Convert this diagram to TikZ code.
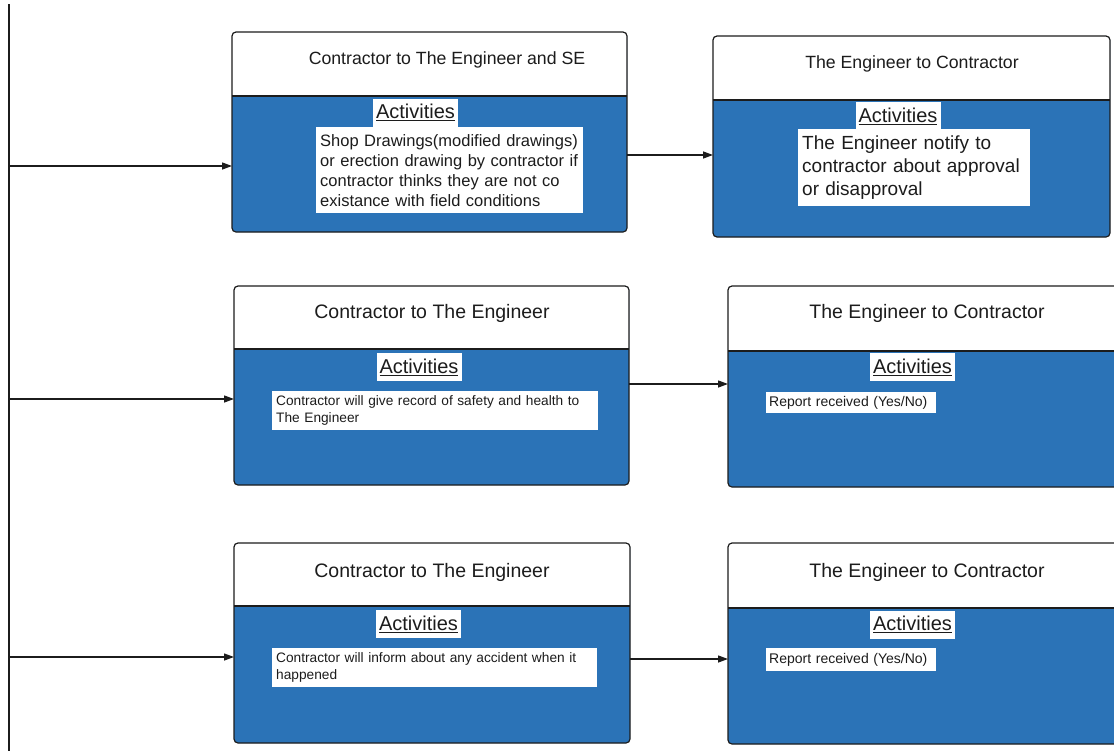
\documentclass[tikz,border=0pt]{standalone}
\usepackage{fontspec}
\setmainfont{Liberation Sans}
\usetikzlibrary{arrows.meta}
\definecolor{cardblue}{RGB}{43,115,183}
\definecolor{ink}{RGB}{28,28,28}

% card: white title strip over a blue body, with a rounded dark border
% #1 name, #2 left, #3 top, #4 right, #5 bottom, #6 y of the divider
\newcommand\cardbox[6]{%
  \node[cardbody, minimum width={#4-#2}, minimum height={#5-#3}] (#1) at (#2,#3) {};
  \begin{scope}
    \clip[rounded corners=4pt] (#1.north west) rectangle (#1.south east);
    \fill[white] (#1.north west) rectangle (#1.east |- 0,#6);
  \end{scope}
  \draw[edge] (#1.west |- 0,#6) -- (#1.east |- 0,#6);
  \draw[edge, rounded corners=4pt] (#1.north west) rectangle (#1.south east);
}

\begin{document}
\begin{tikzpicture}[x=1pt, y=-1pt,
  cardbody/.style={fill=cardblue, rounded corners=4pt, inner sep=0pt, outer sep=0pt, anchor=north west},
  edge/.style={draw=ink, line width=1.2pt},
  wire/.style={draw=ink, line width=1.3pt},
  arr/.style={wire, -{Triangle[length=10pt, width=7pt]}},
  headsmall/.style={text=ink, inner sep=0pt, font=\fontsize{17.7}{21}\selectfont},
  headbig/.style={text=ink, inner sep=0pt, font=\fontsize{19.5}{23}\selectfont},
  acts/.style={fill=white, text=ink, inner sep=0pt, minimum width=85, minimum height=28,
    font=\fontsize{20}{24}\selectfont},
  body/.style={fill=white, text=ink, anchor=north west, inner xsep=4pt, inner ysep=0pt, align=left},
]
\useasboundingbox (0,0) rectangle (1114,750);
\fill[white] (0,0) rectangle (1114,750);
\clip (0,0) rectangle (1114,750);

% cards
\cardbox{c1}{232}{32}{627}{232}{96}
\cardbox{c2}{713}{36}{1110}{237}{100}
\cardbox{c3}{234}{286}{629}{485}{349}
\cardbox{c4}{728}{286}{1125}{487}{351}
\cardbox{c5}{234}{543}{630}{743}{606}
\cardbox{c6}{728}{543}{1125}{744}{608}

% titles
\node[headsmall] (h1) at (447,60) {Contractor to The Engineer and SE};
\node[headsmall] (h2) at (912,64) {The Engineer to Contractor};
\node[headbig] (h3) at (432,313) {Contractor to The Engineer};
\node[headbig] (h4) at (927,313) {The Engineer to Contractor};
\node[headbig] (h5) at (432,572) {Contractor to The Engineer};
\node[headbig] (h6) at (927,572) {The Engineer to Contractor};

% "Activities" labels
\node[acts] (a1) at (415.5,112.5) {\underline{Activities}};
\node[acts] (a2) at (898,116) {\underline{Activities}};
\node[acts] (a3) at (419,367) {\underline{Activities}};
\node[acts] (a4) at (912.5,367) {\underline{Activities}};
\node[acts] (a5) at (418.5,624) {\underline{Activities}};
\node[acts] (a6) at (912.5,624.5) {\underline{Activities}};

% activity descriptions
\node[body, text width=259, minimum height=86, font=\fontsize{16.5}{20}\selectfont] (t1) at (316,127)
  {Shop Drawings(modified drawings)\\or erection drawing by contractor if\\contractor thinks they are not co\\existance with field conditions};
\node[body, text width=224, minimum height=77, font=\fontsize{19}{22.8}\selectfont] (t2) at (798,129)
  {The Engineer notify to\\contractor about approval\\or disapproval};
\node[body, text width=318, minimum height=39, font=\fontsize{13.7}{16.7}\selectfont] (t3) at (272,391)
  {Contractor will give record of safety and health to\\The Engineer};
\node[body, text width=164, minimum height=21, inner xsep=3pt, font=\fontsize{14}{16.7}\selectfont] (t4) at (766,392)
  {Report received (Yes/No)};
\node[body, text width=317, minimum height=39, font=\fontsize{13.7}{16.7}\selectfont] (t5) at (272,648)
  {Contractor will inform about any accident when it\\happened};
\node[body, text width=164, minimum height=23, inner xsep=3pt, font=\fontsize{14}{16.7}\selectfont] (t6) at (766,648)
  {Report received (Yes/No)};

% trunk line on the left and its branches
\coordinate (trtop) at (9,4);
\coordinate (trbot) at (9,760);
\draw[wire] (trtop) -- (trbot);
\coordinate (j1) at (9,166);
\coordinate (j2) at (9,399);
\coordinate (j3) at (9,657);
\draw[arr] (j1) -- (j1 -| c1.west);
\draw[arr] (j2) -- (j2 -| c3.west);
\draw[arr] (j3) -- (j3 -| c5.west);

% links between the two cards of each row
\coordinate (r1) at (0,155);
\coordinate (r2) at (0,384);
\coordinate (r3) at (0,659);
\draw[arr] (c1.east |- r1) -- (c2.west |- r1);
\draw[arr] (c3.east |- r2) -- (c4.west |- r2);
\draw[arr] (c5.east |- r3) -- (c6.west |- r3);
\end{tikzpicture}
\end{document}
